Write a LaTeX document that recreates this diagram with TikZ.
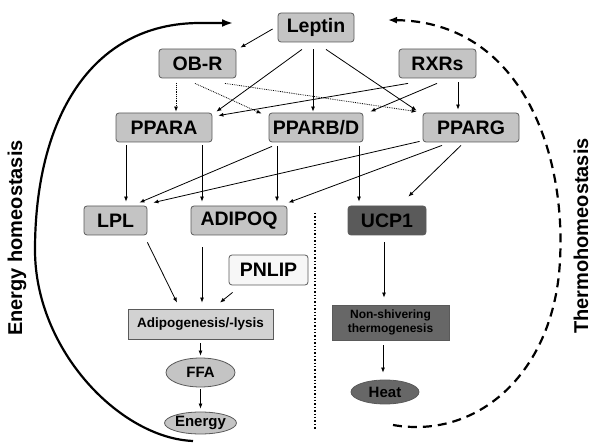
\documentclass[tikz,border=0pt]{standalone}
\usepackage{fontspec}
\setmainfont{Liberation Sans}
\usetikzlibrary{calc,arrows.meta,shapes.geometric}
\definecolor{boxgray}{HTML}{C4C4C4}
\definecolor{bordergray}{HTML}{5A5A5A}
\definecolor{darkfill}{HTML}{5A5A5A}
\definecolor{nsfill}{HTML}{676767}
\definecolor{lightfill}{HTML}{F7F7F7}
\definecolor{adipofill}{HTML}{D2D2D2}
\begin{document}
\begin{tikzpicture}[x=1pt,y=-1pt,
  box/.style={draw=bordergray, fill=boxgray, rounded corners=3pt, line width=0.8pt,
    font=\fontsize{19.5}{20}\selectfont\bfseries, minimum height=29pt, inner sep=0pt},
  sqbox/.style={draw=bordergray, line width=0.8pt, inner sep=0pt},
  ell/.style={ellipse, draw=bordergray, line width=0.8pt, inner sep=0pt,
    font=\fontsize{15}{16}\selectfont\bfseries},
  arr/.style={-{Latex[length=5pt,width=4pt]}, line width=0.8pt},
  dotarr/.style={arr, densely dotted},
  sidelabel/.style={rotate=90, inner sep=0pt, font=\fontsize{20}{22}\selectfont\bfseries}]
\path[use as bounding box] (0,0) rectangle (592,443);

% nodes
\node[box, minimum width=76pt] (leptin) at (316,27.5) {Leptin};
\node[box, minimum width=77pt] (obr) at (197.5,63.5) {OB-R};
\node[box, minimum width=77pt] (rxr) at (437.5,63.5) {RXRs};
\node[box, minimum width=96pt] (ppara) at (164,127.5) {PPARA};
\node[box, minimum width=94pt] (ppb) at (316,127.5) {PPARB/D};
\node[box, minimum width=96pt] (pg) at (471,127.5) {PPARG};
\node[box, minimum width=63pt] (lpl) at (115.5,220.5) {LPL};
\node[box, minimum width=96pt] (adipoq) at (239,220.5) {ADIPOQ};
\node[box, fill=darkfill, minimum width=78pt] (ucp) at (387,220.5) {UCP1};
\node[box, fill=lightfill, minimum width=79pt, minimum height=30pt] (pnlip) at (268.5,270) {PNLIP};
\node[sqbox, fill=adipofill, minimum width=145pt, minimum height=30pt,
  font=\fontsize{13.5}{15}\selectfont\bfseries] (adipo) at (200.5,324) {Adipogenesis/-lysis};
\node[ell, fill=boxgray, minimum width=69pt, minimum height=29pt] (ffa) at (200.5,372.5) {FFA};
\node[ell, fill=boxgray, minimum width=67pt, minimum height=22pt] (energy) at (200.5,423) {Energy};
\node[sqbox, fill=nsfill, minimum width=117pt, minimum height=35pt, align=center,
  font=\fontsize{12}{13.5}\selectfont\bfseries] (ns) at (390.5,322.5) {Non-shivering\\thermogenesis};
\node[ell, fill=nsfill, minimum width=68pt, minimum height=24pt] (heat) at (385,392) {Heat};

% side labels
\node[sidelabel] (elab) at (17,238) {Energy homeostasis};
\node[sidelabel] (tlab) at (581,236) {Thermohomeostasis};

% connectors
\draw[arr] ($(leptin.west)+(-5,1.5)$) -- ($(obr.north east)+(4,-1)$);
\draw[arr] ($(leptin.south)+(-14,7)$) -- ($(ppara.north east)+(4,-1)$);
\draw[arr] ($(leptin.south)+(-3,7)$) -- ($(ppb.north)+(-3,-1)$);
\draw[arr] ($(leptin.south)+(10,7)$) -- ($(pg.north west)+(-6,-2)$);
\draw[dotarr] ($(obr.south)+(-21.5,5)$) -- ($(ppara.north)+(12,-1)$);
\draw[dotarr] ($(obr.south)+(-2.5,5)$) -- ($(ppb.north west)+(-7,1)$);
\draw[dotarr] ($(obr.south)+(27.5,5)$) -- ($(pg.north west)+(-6,-1)$);
\draw[arr] ($(rxr.south)+(-29.5,5)$) -- ($(ppara.north east)+(6,3)$);
\draw[arr] ($(rxr.south)+(-0.5,5)$) -- ($(ppb.north east)+(7,-1)$);
\draw[arr] ($(rxr.south)+(20.5,4)$) -- ($(pg.north)+(-13,-3)$);
\draw[arr] ($(ppara.south)+(-38,3)$) -- ($(lpl.north)+(10.5,-4)$);
\draw[arr] ($(ppara.south)+(38,3)$) -- ($(adipoq.north)+(-37,-4)$);
\draw[arr] ($(ppb.south)+(-44,4)$) -- ($(lpl.north east)+(-8,-3)$);
\draw[arr] ($(ppb.south)+(-39,4)$) -- ($(adipoq.north)+(38,-4)$);
\draw[arr] ($(ppb.south)+(43,4)$) -- ($(ucp.north)+(-28,-4)$);
\draw[arr] ($(pg.south west)+(-3,-1)$) -- ($(lpl.north east)+(6,-3)$);
\draw[arr] ($(pg.south)+(-29,3)$) -- ($(adipoq.north east)+(1,-3)$);
\draw[arr] ($(pg.south)+(-10,3)$) -- ($(ucp.north east)+(-18,-9)$);
\draw[arr] ($(lpl.south east)+(0,7)$) -- ($(adipo.north)+(-23.5,-6)$);
\draw[arr] ($(adipoq.south)+(-37,12)$) -- ($(adipo.north)+(1.5,-6)$);
\draw[arr] ($(pnlip.south west)+(4,7)$) -- ($(adipo.north)+(19.5,-6)$);
\draw[arr] ($(adipo.south)+(0,4)$) -- ($(ffa.north)+(0,-2)$);
\draw[arr] ($(ffa.south)+(0,2)$) -- ($(energy.north)+(0,-3)$);
\draw[arr] ($(ucp.south)+(-3,7)$) -- ($(ns.north)+(-6.5,-7)$);
\draw[arr] ($(ns.south)+(-7.5,5)$) -- ($(heat.north)+(-2,-7)$);

% dotted separator
\coordinate (septop) at (315,213);
\coordinate (sepbot) at (315,430);
\draw[line width=1.4pt, dotted] (septop) -- (sepbot);

% big curves
\coordinate (lstart) at (193,441);
\coordinate (lend) at (233,23);
\draw[line width=2.2pt, -{Latex[length=11pt,width=8pt]}]
  (lstart) .. controls (120,438) and (35,350) .. (35,250)
  .. controls (35,120) and (90,23) .. (200,23) -- (lend);
\coordinate (rstart) at (393,425);
\coordinate (rend) at (388,20);
\draw[line width=2.2pt, dash pattern=on 9pt off 6pt, -{Latex[length=9pt,width=7pt]}]
  (rstart) .. controls (480,440) and (555,370) .. (560,260)
  .. controls (566,150) and (520,22) .. (rend);
\end{tikzpicture}
\end{document}
